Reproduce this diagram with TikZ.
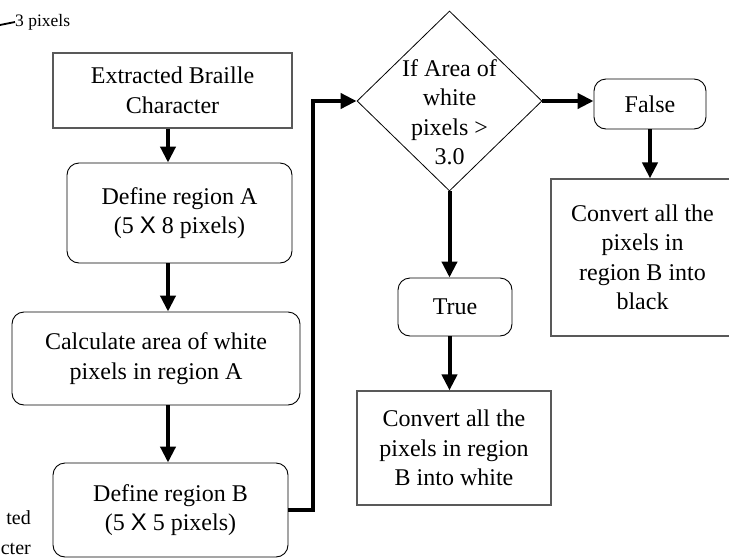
\documentclass[tikz,border=0pt]{standalone}
\usepackage{fontspec}
\setmainfont{Liberation Serif}
\setsansfont{Liberation Sans}
\usetikzlibrary{shapes.geometric,arrows.meta}

\begin{document}
\begin{tikzpicture}[x=1pt,y=-1pt, every node/.style = {font=\fontsize{24}{29.5}\selectfont, align=center, inner sep=0pt},
                sq/.style = {rectangle, draw=black!65, line width=1.2pt},
                rnd/.style = {rectangle, draw, line width=0.9pt, rounded corners=12pt},
                dec/.style = {diamond, draw, line width=0.8pt, minimum width=185pt, minimum height=180pt},
                arr/.style = {line width=4pt, -{Triangle[length=16pt,width=15pt]}}]
                \useasboundingbox (0,0) rectangle (729,560);
                \coordinate (c) at (168,0);
                \node[sq, minimum width=239pt, minimum height=75pt] (1) at (172.5,90.5) {Extracted Braille\\Character};
                \node[rnd, minimum width=225pt, minimum height=100pt] (2) at (179.5,213) {Define region A\\(5 {\sffamily X} 8 pixels)};
                \node[rnd, minimum width=288pt, minimum height=93pt] (3) at (156,358.5) {Calculate area of white\\pixels in region A};
                \node[rnd, minimum width=235pt, minimum height=94pt] (4) at (170.5,510) {Define region B\\(5 {\sffamily X} 5 pixels)};
                \node[dec] (5) at (449.5,101) {};
                \node (5t) at (449.5,112) {If Area of\\white\\pixels >\\3.0};
                \node[rnd, minimum width=112pt, minimum height=50pt] (6) at (650,104) {False};
                \node[sq, minimum width=183pt, minimum height=157pt] (7) at (642.5,257.5) {Convert all the\\pixels in\\region B into\\black};
                \node[rnd, minimum width=114pt, minimum height=58pt] (8) at (455,307) {True};
                \node[sq, minimum width=194pt, minimum height=114pt] (9) at (454,448) {Convert all the\\pixels in region\\B into white};
                % cut-off bits at the edges
                \node[anchor=west, font=\fontsize{17.5}{20}\selectfont] (10) at (15,22) {3 pixels};
                \coordinate (10a) at (0,25);
                \draw[line width=1.8pt] (10a) -- (10.west);
                \node[anchor=east, align=right, font=\fontsize{20}{30}\selectfont] (11) at (31,533) {ted\\cter};
                \path[arr]
                    (1.south -| c) edge (2.north -| c)
                    (2.south -| c) edge (3.north -| c)
                    (3.south -| c) edge (4.north -| c)
                    (5.east) edge (5.east -| 6.west)
                    (6.south) edge (6.south |- 7.north)
                    (5.south) edge (5.south |- 8.north)
                    (5.south |- 8.south) edge (5.south |- 9.north);
                \draw[arr] (4.east) -- ++(25,0) |- (5.west);
            \end{tikzpicture}
\end{document}
